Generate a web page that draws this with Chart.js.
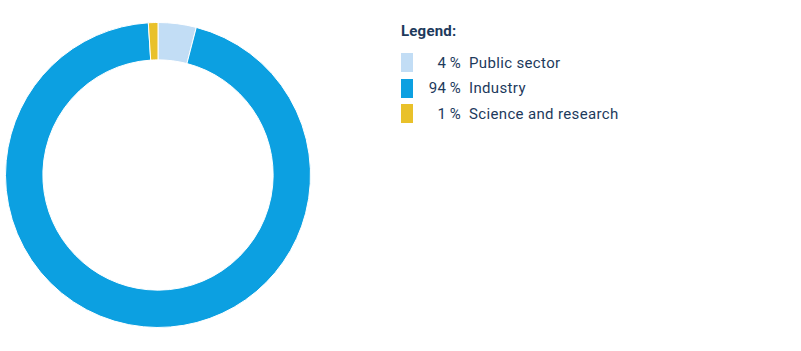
<!DOCTYPE html>
<html>
<head>
<meta charset="utf-8">
<script src="https://cdn.jsdelivr.net/npm/chart.js@4"></script>
<style>
    body { margin: 0; background: #fff; font-family: Roboto, "DejaVu Sans", sans-serif; color: #1d3a5c; }
    #wrap { position: absolute; left: 5px; top: 22px; width: 306px; height: 306px; }
    #legend { position: absolute; left: 401px; top: 22px; }
    #legend .title { font-weight: bold; font-size: 15px; line-height: 18px; margin-bottom: 10px; letter-spacing: 0.2px; }
    #legend .row { height: 25.5px; display: flex; align-items: center; font-size: 15px; letter-spacing: 0.35px; }
    #legend .box { width: 12px; height: 19px; }
    #legend .pct { width: 48px; text-align: right; margin-right: 8px; }
</style>
</head>
<body>
<div id="wrap"><canvas id="donut"></canvas></div>
<div id="legend"></div>
<script>
var labels = ["Public sector", "Industry", "Science and research"];
var shares = [4, 94, 1];
var colors = ["#c2ddf5", "#0ca0e1", "#e9c12a"];

// html legend built from the same arrays
var legend_html = "<div class=\"title\">Legend:</div>";
for (var i in labels) {
    legend_html += "<div class=\"row\"><div class=\"box\" style=\"background-color: " + colors[i] + ";\"></div>";
    legend_html += "<div class=\"pct\">" + shares[i] + "&#8201;%</div><div>" + labels[i] + "</div></div>";
}
document.getElementById("legend").innerHTML = legend_html;

var ctx = document.getElementById("donut").getContext("2d");
var donutChart = new Chart(ctx, {
    type: 'doughnut',
    data: {
        labels: labels,
        datasets: [{
            data: shares,
            backgroundColor: colors,
            borderColor: "#fff",
            borderWidth: 1
        }]
    },
    options: {
        responsive: true,
        maintainAspectRatio: false,
        animation: false,
        cutout: '75.5%',
        layout: { padding: 0 },
        plugins: {
            legend: { display: false },
            tooltip: { enabled: false }
        }
    }
});
</script>
</body>
</html>
